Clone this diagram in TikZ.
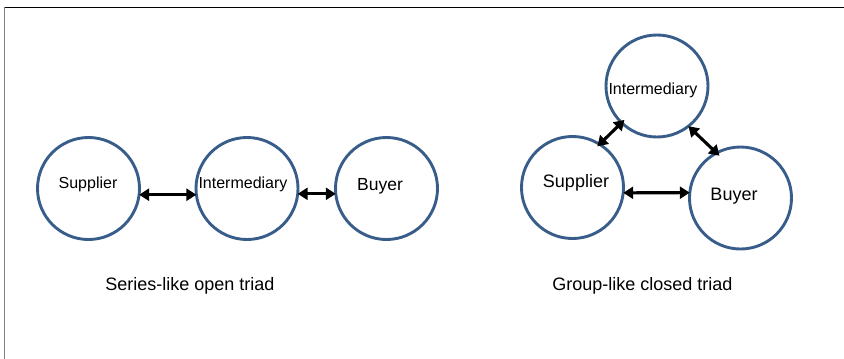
\documentclass[tikz,border=0pt]{standalone}
\usepackage{fontspec}
\setmainfont{Liberation Sans}
\usetikzlibrary{arrows.meta}

\definecolor{ringBlue}{HTML}{385D8A}
\def\ringColor{ringBlue}
\def\frameColor{gray}

\begin{document}
\begin{tikzpicture}[x=1pt,y=-1pt,
    ring/.style={circle, draw=\ringColor, line width=2.9pt, minimum size=102pt, inner sep=0pt, outer sep=0pt},
    tag/.style={anchor=base, inner sep=0pt},
    link/.style={{Triangle[length=10pt,width=12pt]}-{Triangle[length=10pt,width=12pt]}, line width=3.1pt, black}]
    % Define parameters
    \def\xmin{0}
    \def\xmax{844}
    \def\ymin{0}
    \def\ymax{359}
    \useasboundingbox (\xmin,\ymin) rectangle (\xmax,\ymax);

    % frame
    \draw[black, line width=1pt] (4,7) -- (\xmax,7);
    \draw[\frameColor, line width=1.5pt] (4.5,7) -- (4.5,\ymax);

    % open triad
    \node[ring] (supA) at (88.5,188.5) {};
    \node[ring] (intA) at (247,188.5) {};
    \node[ring] (buyA) at (386.5,188.5) {};
    \node[tag, font=\fontsize{16}{19}\selectfont] (supAtxt) at (88,188) {Supplier};
    \node[tag, font=\fontsize{16}{19}\selectfont] (intAtxt) at (243,188.5) {Intermediary};
    \node[tag, font=\fontsize{17.5}{21}\selectfont] (buyAtxt) at (380,190) {Buyer};
    \draw[link] (supA.-7) -- (intA.187);
    \draw[link] (intA.-6) -- (buyA.186);
    \node[tag, font=\fontsize{18}{22}\selectfont] (capA) at (190,290) {Series-like open triad};

    % closed triad
    \node[ring] (intB) at (657,86) {};
    \node[ring] (supB) at (572.5,187.5) {};
    \node[ring] (buyB) at (740.5,198) {};
    \node[tag, font=\fontsize{16}{19}\selectfont] (intBtxt) at (653,94.5) {Intermediary};
    \node[tag, font=\fontsize{18}{22}\selectfont] (supBtxt) at (576,187.5) {Supplier};
    \node[tag, font=\fontsize{18}{22}\selectfont] (buyBtxt) at (734,200) {Buyer};
    \draw[link, shorten <=-3pt, shorten >=-4pt] (supB.58) -- (intB.226);
    \draw[link, shorten >=-4pt] (intB.-52) -- (buyB.118);
    \draw[link] (supB.-6) -- (buyB.174);
    \node[tag, font=\fontsize{18}{22}\selectfont] (capB) at (642.5,290) {Group-like closed triad};
\end{tikzpicture}
\end{document}
